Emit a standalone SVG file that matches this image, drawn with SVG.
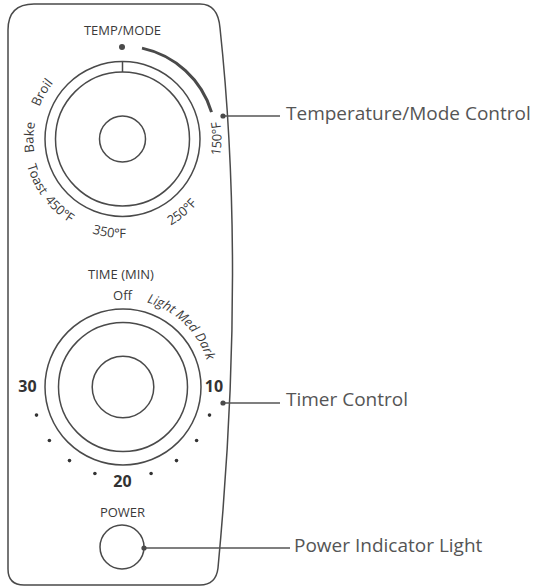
<svg xmlns="http://www.w3.org/2000/svg" width="540" height="587" viewBox="0 0 540 587">
  <style>
    .ln { fill: none; stroke: #4a4a4a; stroke-width: 1.5; }
    .lbl { font-family: "Open Sans", "Noto Sans", sans-serif; font-size: 13px; fill: #3a3a3a; }
    .num { font-family: "Open Sans", "Noto Sans", sans-serif; font-size: 16px; font-weight: bold; fill: #333; text-anchor: middle; }
    .call { font-family: "Open Sans", "Noto Sans", sans-serif; font-size: 19px; fill: #555; }
    .dot { fill: #4a4a4a; }
    .tick { fill: #333; }
    .cline { stroke: #555; stroke-width: 1.5; fill: none; }
  </style>
  <defs>
    <path id="tempLow" d="M 29.47,105.14 A 99 99 0 1 0 215.53,105.14"/>
    <path id="tempHigh" d="M 45.42,183.5 A 89 89 0 0 1 122.5,50"/>
    <path id="timerArc" d="M 79,310.79 A 88 88 0 0 1 205.69,417.1"/>
  </defs>
  <rect width="540" height="587" fill="#ffffff"/>

  <g id="body">
    <path class="ln" d="M 8,30 Q 8,4 34,4 L 200,4 Q 218,4 220,28 Q 246,270 218,568 Q 216,585 200,585 L 24,585 Q 8,585 8,569 Z"/>
  </g>

  <g id="temp-mode-dial">
    <text class="lbl" x="122.5" y="35" text-anchor="middle">TEMP/MODE</text>
    <circle class="dot" cx="122" cy="47" r="3"/>
    <path d="M 142,48.1 A 93 93 0 0 1 211.5,112.1" fill="none" stroke="#4a4a4a" stroke-width="3"/>
    <circle class="ln" cx="122.5" cy="139" r="77.5"/>
    <circle class="ln" cx="122.5" cy="139" r="67"/>
    <circle class="ln" cx="122.5" cy="139" r="23"/>
    <line class="ln" x1="122.5" y1="61.5" x2="122.5" y2="72"/>
    <text class="lbl" text-anchor="middle"><textPath href="#tempHigh" startOffset="48.2">Bake</textPath></text>
    <text class="lbl" text-anchor="middle"><textPath href="#tempHigh" startOffset="93.2">Broil</textPath></text>
    <text class="lbl" text-anchor="middle"><textPath href="#tempLow" startOffset="77.8">Toast</textPath></text>
    <text class="lbl" text-anchor="middle"><textPath href="#tempLow" startOffset="117.5">450°F</textPath></text>
    <text class="lbl" text-anchor="middle"><textPath href="#tempLow" startOffset="176.2">350°F</textPath></text>
    <text class="lbl" text-anchor="middle"><textPath href="#tempLow" startOffset="257.5">250°F</textPath></text>
    <text class="lbl" text-anchor="middle"><textPath href="#tempLow" startOffset="345.6">150°F</textPath></text>
  </g>

  <g id="timer-dial">
    <text class="lbl" x="121" y="279" text-anchor="middle">TIME (MIN)</text>
    <text class="lbl" x="122.5" y="300" text-anchor="middle">Off</text>
    <text class="lbl" font-style="italic" text-anchor="middle"><textPath href="#timerArc" startOffset="113.7">Light Med Dark</textPath></text>
    <circle class="ln" cx="123" cy="387" r="78"/>
    <circle class="ln" cx="123" cy="387" r="64.5"/>
    <circle class="ln" cx="123" cy="387" r="30.8"/>
    <text class="num" x="27.5" y="392">30</text>
    <text class="num" x="214" y="392">10</text>
    <text class="num" x="122.5" y="487">20</text>
    <g class="tick">
      <circle cx="209.5" cy="415.1" r="1.8"/>
      <circle cx="196.6" cy="440.5" r="1.8"/>
      <circle cx="176.5" cy="460.6" r="1.8"/>
      <circle cx="151.1" cy="473.5" r="1.8"/>
      <circle cx="94.9" cy="473.5" r="1.8"/>
      <circle cx="69.5" cy="460.6" r="1.8"/>
      <circle cx="49.4" cy="440.5" r="1.8"/>
      <circle cx="36.5" cy="415.1" r="1.8"/>
    </g>
  </g>

  <g id="power-light">
    <text class="lbl" x="122.5" y="517" text-anchor="middle">POWER</text>
    <circle class="ln" cx="122" cy="547" r="22"/>
  </g>

  <g id="connectors">
    <line class="cline" x1="223" y1="116" x2="280" y2="116"/>
    <circle class="dot" cx="223" cy="116" r="2.6"/>
    <line class="cline" x1="223" y1="403" x2="280" y2="403"/>
    <circle class="dot" cx="223" cy="403" r="2.6"/>
    <line class="cline" x1="144" y1="548" x2="290" y2="548"/>
    <circle class="dot" cx="144" cy="548" r="2.6"/>
  </g>

  <g id="callout-labels">
    <text class="call" x="286" y="120">Temperature/Mode Control</text>
    <text class="call" x="286" y="406">Timer Control</text>
    <text class="call" x="294" y="552">Power Indicator Light</text>
  </g>
</svg>
